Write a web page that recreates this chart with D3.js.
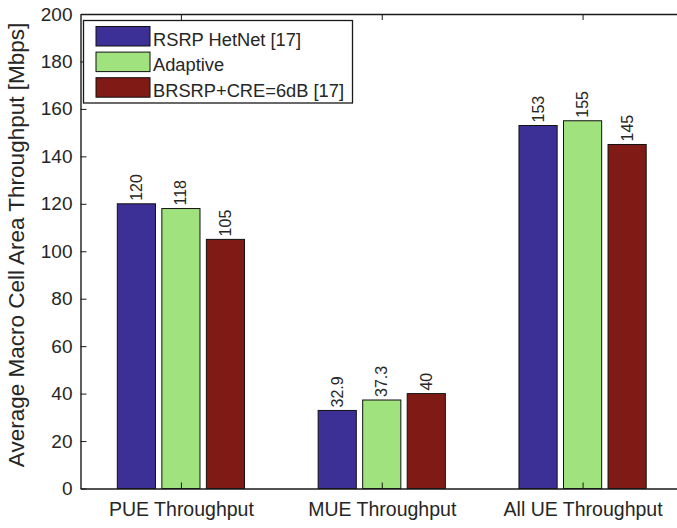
<!DOCTYPE html>
<html><head><meta charset="utf-8">
<script src="https://cdn.jsdelivr.net/npm/d3@7/dist/d3.min.js"></script>
<style>body{margin:0;background:#fff}svg{display:block}text{font-family:"Liberation Sans",Arial,Helvetica,sans-serif;fill:#262626}</style>
</head><body><svg id="c" width="677" height="528"></svg>
<script>
const categories = ["PUE Throughput","MUE Throughput","All UE Throughput"];
const seriesNames = ["RSRP HetNet [17]","Adaptive","BRSRP+CRE=6dB [17]"];
const seriesColors = ["#3c2f96","#a0e27e","#801a15"];
const rsrpHetNet = [120,32.9,153];
const adaptive = [118,37.3,155];
const brsrpCre = [105,40,145];
const valueLabels = [["120","32.9","153"],["118","37.3","155"],["105","40","145"]];
const yTicks = [0,20,40,60,80,100,120,140,160,180,200];
const series = [rsrpHetNet, adaptive, brsrpCre];

const svg = d3.select("#c");
const L = 80.5, R = 683, T = 14, B = 488.5;
const x = d3.scaleLinear().domain([0.5,3.5]).range([L,R]);
const y = d3.scaleLinear().domain([0,200]).range([B,T]);
const offs = [-0.2217, 0, 0.2217], bw = 0.19;

// axes
const yAxisL = d3.axisLeft(y).tickValues(yTicks).tickSizeInner(-6).tickSizeOuter(0).tickPadding(8);
const ya = svg.append("g").attr("transform",`translate(${L},0)`).call(yAxisL);
ya.selectAll("text").attr("font-size",19).attr("fill","#262626");
const yAxisR = d3.axisRight(y).tickValues(yTicks).tickSizeInner(-6).tickSizeOuter(0).tickFormat("");
svg.append("g").attr("transform",`translate(${R},0)`).call(yAxisR);
const xAxisB = d3.axisBottom(x).tickValues([1,2,3]).tickSizeInner(-6).tickSizeOuter(0).tickPadding(14).tickFormat((d,i)=>categories[i]);
const xa = svg.append("g").attr("transform",`translate(0,${B})`).call(xAxisB);
xa.selectAll("text").attr("font-size",19.5).attr("fill","#262626");
const xAxisT = d3.axisTop(x).tickValues([1,2,3]).tickSizeInner(-6).tickSizeOuter(0).tickFormat("");
svg.append("g").attr("transform",`translate(0,${T})`).call(xAxisT);
svg.selectAll(".domain").attr("stroke","#1a1a1a").attr("stroke-width",1.4);
svg.selectAll(".tick line").attr("stroke","#1a1a1a");

const g = svg.append("g");
series.forEach((s,si)=>{
  g.selectAll(null).data(s).enter().append("rect")
    .attr("x",(d,i)=>x(i+1+offs[si]-bw/2))
    .attr("width",x(bw)-x(0))
    .attr("y",d=>y(d)).attr("height",d=>y(0)-y(d))
    .attr("fill",seriesColors[si]).attr("stroke","#111").attr("stroke-width",1);
  g.selectAll(null).data(s).enter().append("text")
    .attr("transform",(d,i)=>`translate(${x(i+1+offs[si])+5.5},${y(d)-3}) rotate(-90)`)
    .attr("font-size",16).text((d,i)=>valueLabels[si][i]);
});
xa.select(".domain").raise();
xa.raise();

svg.append("text").attr("transform",`translate(24,245) rotate(-90)`)
  .attr("text-anchor","middle").attr("font-size",22.5).text("Average Macro Cell Area Throughput [Mbps]");

// legend
const lg = svg.append("g");
lg.append("rect").attr("x",83.5).attr("y",20.5).attr("width",269).attr("height",82.5)
  .attr("fill","#fff").attr("stroke","#1a1a1a").attr("stroke-width",1.3);
seriesNames.forEach((n,i)=>{
  lg.append("rect").attr("x",96).attr("y",26.5+i*25.6).attr("width",54).attr("height",19.5)
    .attr("fill",seriesColors[i]).attr("stroke","#111");
  lg.append("text").attr("x",153).attr("y",45.5+i*25.6).attr("font-size",18.3).text(n);
});
</script></body></html>
